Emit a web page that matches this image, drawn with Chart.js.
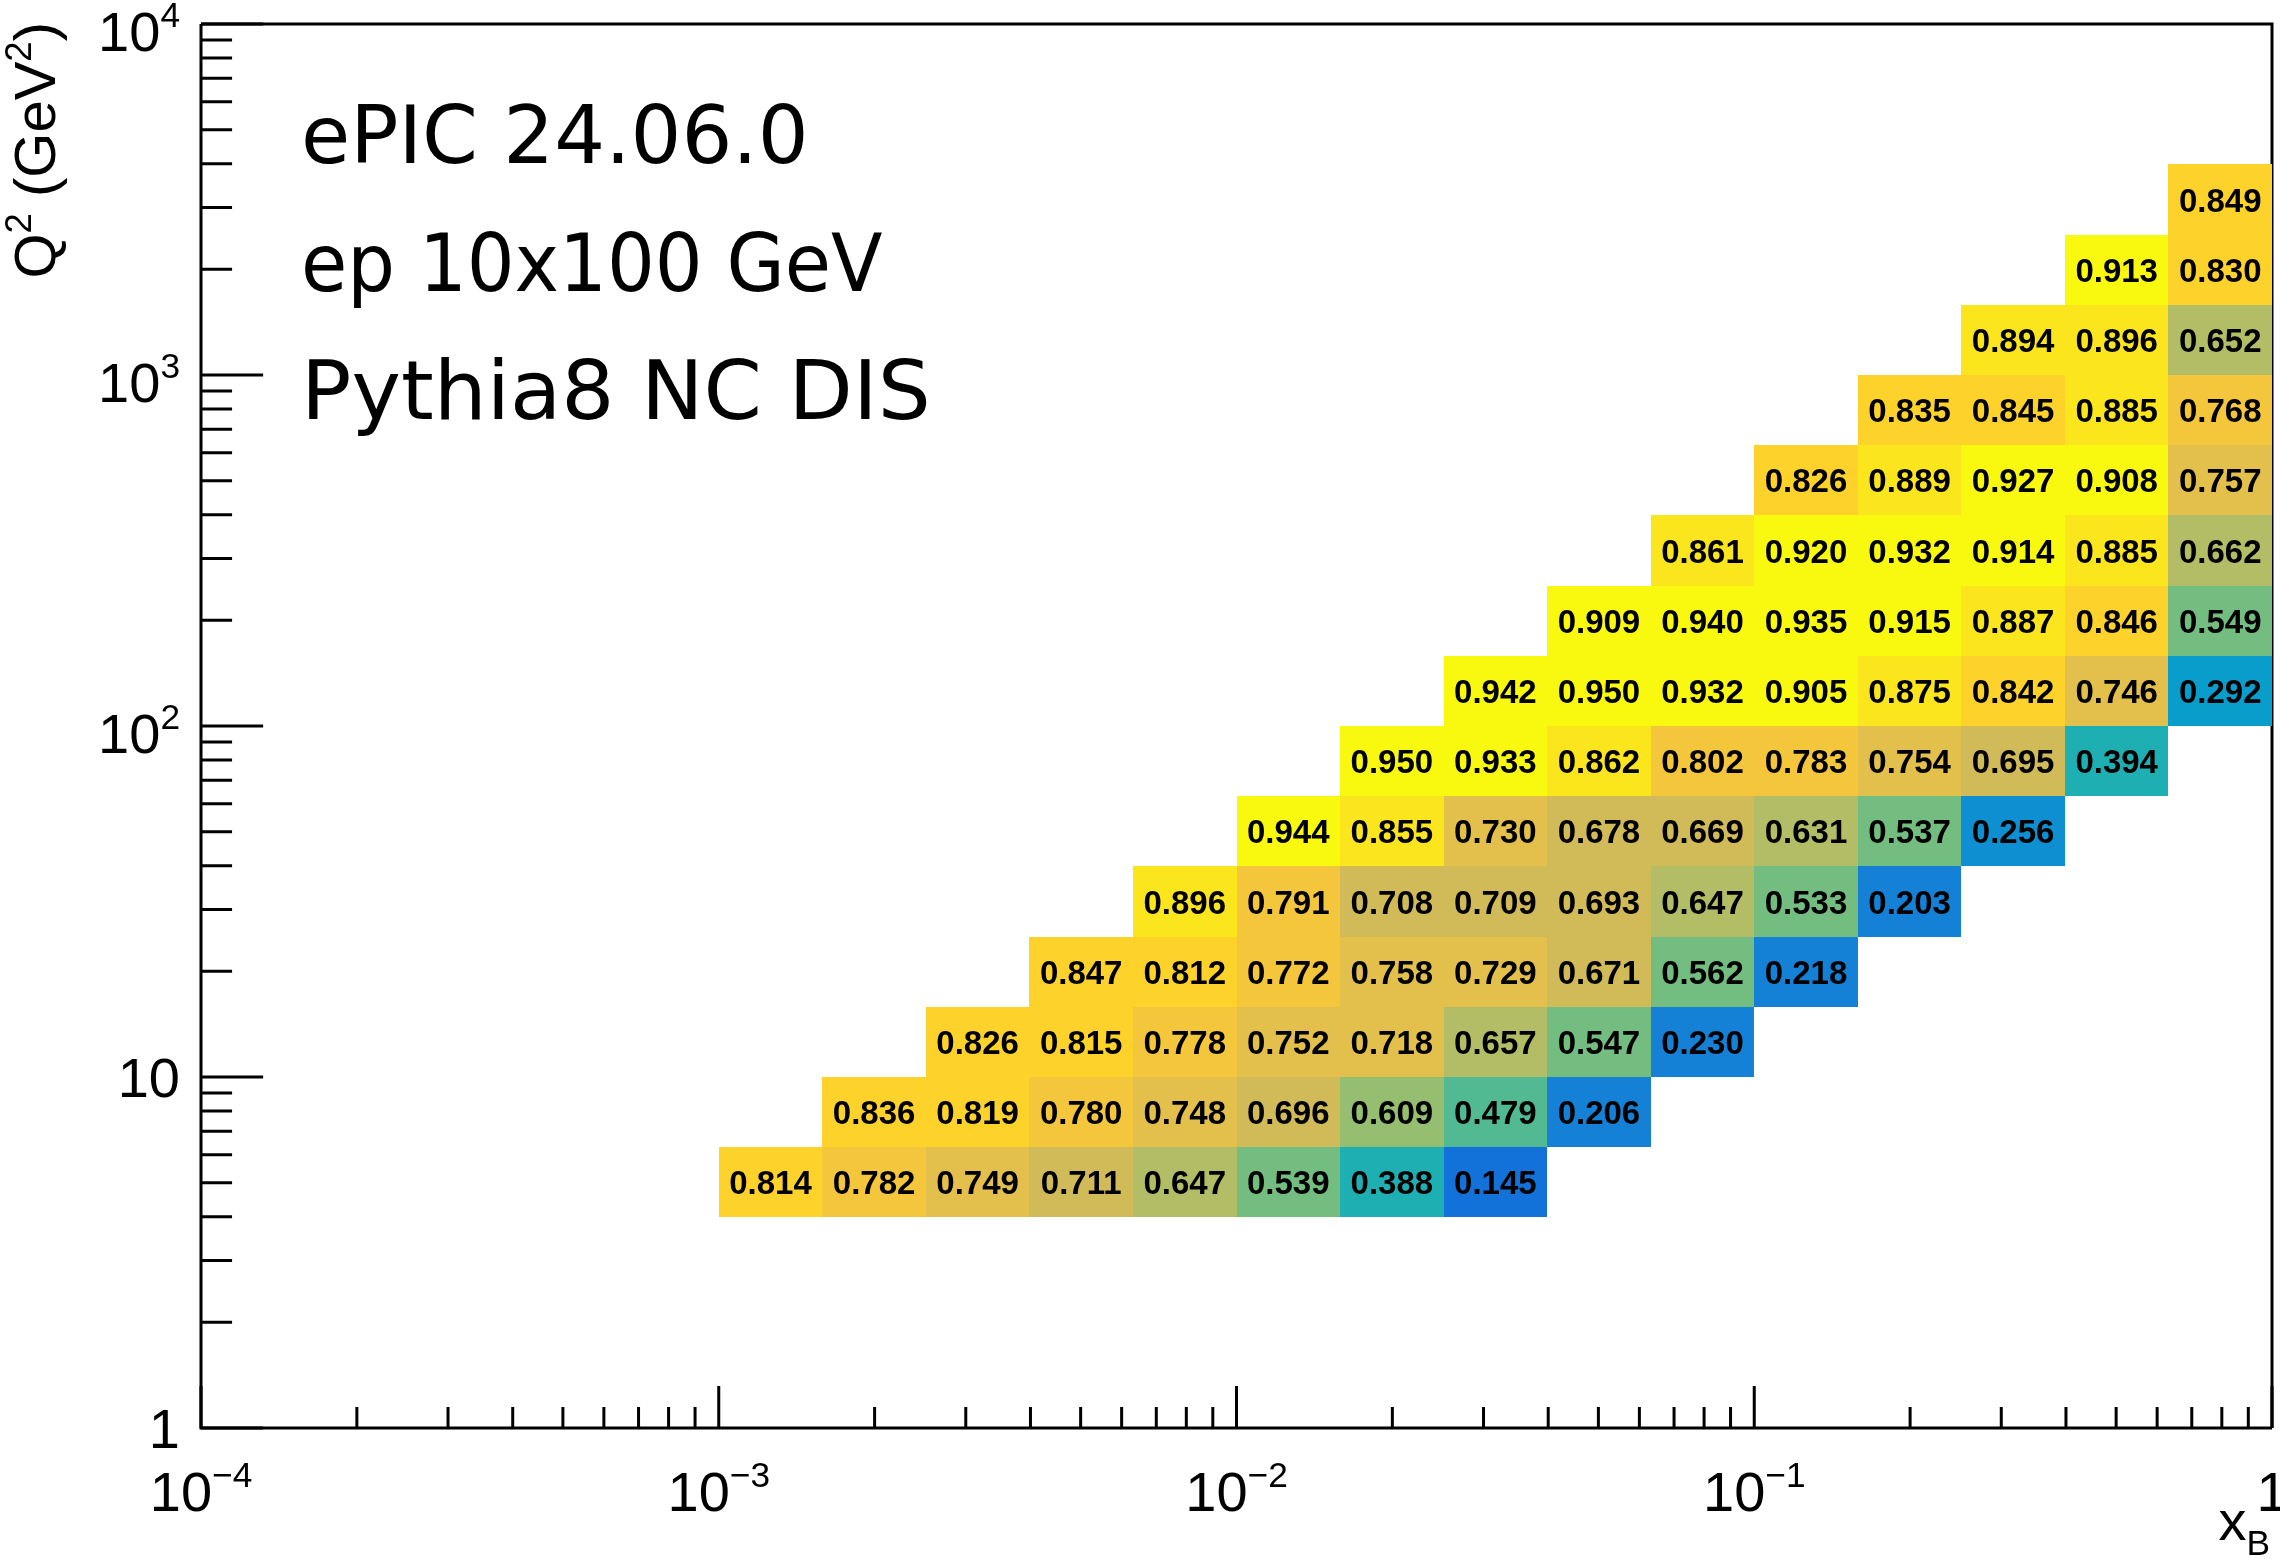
<!DOCTYPE html>
<html><head><meta charset="utf-8">
<script src="https://cdn.jsdelivr.net/npm/chart.js@4.4.1/dist/chart.umd.min.js"></script>
<style>html,body{margin:0;padding:0;background:#fff;}canvas{display:block;}</style>
</head><body>
<canvas id="c" width="2280" height="1559"></canvas>
<script>
// ---------------- data ----------------
// bin edges in log10(x_B) and log10(Q^2)
const xBinEdgesLog = [-3.0,-2.8,-2.6,-2.4,-2.2,-2.0,-1.8,-1.6,-1.4,-1.2,-1.0,-0.8,-0.6,-0.4,-0.2,0.0];
const yBinEdgesLog = [0.6,0.8,1.0,1.2,1.4,1.6,1.8,2.0,2.2,2.4,2.6,2.8,3.0,3.2,3.4,3.6];
const _ = null;
// one row per Q^2 bin (lowest first), one entry per x_B bin
const row0  = [0.814,0.782,0.749,0.711,0.647,0.539,0.388,0.145,_,_,_,_,_,_,_];
const row1  = [_,0.836,0.819,0.780,0.748,0.696,0.609,0.479,0.206,_,_,_,_,_,_];
const row2  = [_,_,0.826,0.815,0.778,0.752,0.718,0.657,0.547,0.230,_,_,_,_,_];
const row3  = [_,_,_,0.847,0.812,0.772,0.758,0.729,0.671,0.562,0.218,_,_,_,_];
const row4  = [_,_,_,_,0.896,0.791,0.708,0.709,0.693,0.647,0.533,0.203,_,_,_];
const row5  = [_,_,_,_,_,0.944,0.855,0.730,0.678,0.669,0.631,0.537,0.256,_,_];
const row6  = [_,_,_,_,_,_,0.950,0.933,0.862,0.802,0.783,0.754,0.695,0.394,_];
const row7  = [_,_,_,_,_,_,_,0.942,0.950,0.932,0.905,0.875,0.842,0.746,0.292];
const row8  = [_,_,_,_,_,_,_,_,0.909,0.940,0.935,0.915,0.887,0.846,0.549];
const row9  = [_,_,_,_,_,_,_,_,_,0.861,0.920,0.932,0.914,0.885,0.662];
const row10 = [_,_,_,_,_,_,_,_,_,_,0.826,0.889,0.927,0.908,0.757];
const row11 = [_,_,_,_,_,_,_,_,_,_,_,0.835,0.845,0.885,0.768];
const row12 = [_,_,_,_,_,_,_,_,_,_,_,_,0.894,0.896,0.652];
const row13 = [_,_,_,_,_,_,_,_,_,_,_,_,_,0.913,0.830];
const row14 = [_,_,_,_,_,_,_,_,_,_,_,_,_,_,0.849];

const xTickValues = [1e-4, 1e-3, 1e-2, 1e-1, 1];
const xTickLabels = ['10^{-4}', '10^{-3}', '10^{-2}', '10^{-1}', '1'];
const yTickValues = [1, 10, 100, 1000, 10000];
const yTickLabels = ['1', '10', '10^{2}', '10^{3}', '10^{4}'];
const xTitle = 'x_{B}';
const yTitle = 'Q^{2} (GeV^{2})';
const infoLines = ['ePIC 24.06.0', 'ep 10x100 GeV', 'Pythia8 NC DIS'];

// ---------------- palette (ROOT kBird, 20 contours) ----------------
const birdStops = [0.0, 0.125, 0.25, 0.375, 0.5, 0.625, 0.75, 0.875, 1.0];
const birdR = [0.2082, 0.0592, 0.0780, 0.0232, 0.1802, 0.5301, 0.8186, 0.9956, 0.9764];
const birdG = [0.1664, 0.3599, 0.5041, 0.6419, 0.7178, 0.7492, 0.7328, 0.7862, 0.9832];
const birdB = [0.5293, 0.8684, 0.8385, 0.7914, 0.6425, 0.4662, 0.3499, 0.1968, 0.0539];
const NCOL = 255, NCONT = 20;
const palette = [];
for (let g = 1; g < birdStops.length; g++) {
  const start = Math.floor(NCOL * birdStops[g-1]);
  const n = Math.floor(NCOL * birdStops[g]) - start;
  for (let c = 0; c < n; c++) {
    const f = c / n;
    const r = birdR[g-1] + f * (birdR[g] - birdR[g-1]);
    const gg = birdG[g-1] + f * (birdG[g] - birdG[g-1]);
    const b = birdB[g-1] + f * (birdB[g] - birdB[g-1]);
    palette.push(`rgb(${Math.round(r*255)},${Math.round(gg*255)},${Math.round(b*255)})`);
  }
}
const rows = [row0,row1,row2,row3,row4,row5,row6,row7,row8,row9,row10,row11,row12,row13,row14];
const cells = [];
rows.forEach((row, j) => row.forEach((v, i) => {
  if (v === null) return;
  cells.push({
    x: Math.pow(10, (xBinEdgesLog[i] + xBinEdgesLog[i+1]) / 2),
    y: Math.pow(10, (yBinEdgesLog[j] + yBinEdgesLog[j+1]) / 2),
    v: v, i: i, j: j
  });
}));
const zMin = 0;
const zMax = Math.max(...cells.map(c => c.v));
function zColor(v) {
  const k = Math.floor(0.01 + (v - zMin) * NCONT / (zMax - zMin));
  let idx = Math.floor((k + 0.99) * NCOL / NCONT);
  if (idx > NCOL - 1) idx = NCOL - 1;
  if (idx < 0) idx = 0;
  return palette[idx];
}

// ---------------- text helpers ----------------
const FONT = '"Liberation Sans", Arial, Helvetica, sans-serif';
function parseScript(label) {
  const segs = [];
  const re = /([\^_])\{([^}]*)\}/g;
  let last = 0, m;
  while ((m = re.exec(label)) !== null) {
    if (m.index > last) segs.push({t: label.slice(last, m.index), mode: 0});
    segs.push({t: m[2].replace('-', '\u2212'), mode: m[1] === '^' ? 1 : -1});
    last = re.lastIndex;
  }
  if (last < label.length) segs.push({t: label.slice(last), mode: 0});
  return segs;
}
function drawScript(ctx, label, x, y, align, size) {
  const segs = parseScript(label);
  const small = size * 0.63;
  let total = 0;
  segs.forEach(s => {
    ctx.font = `${s.mode ? small : size}px ${FONT}`;
    s.w = ctx.measureText(s.t).width;
    total += s.w;
  });
  let cx = align === 'center' ? x - total / 2 : (align === 'right' ? x - total : x);
  ctx.textAlign = 'left';
  ctx.textBaseline = 'alphabetic';
  segs.forEach(s => {
    ctx.font = `${s.mode ? small : size}px ${FONT}`;
    const dy = s.mode === 1 ? -size * 0.42 : (s.mode === -1 ? size * 0.27 : 0);
    ctx.fillText(s.t, cx, y + dy);
    cx += s.w;
  });
}

// ---------------- plugin drawing the ROOT-style histogram ----------------
const rootStyle = {
  id: 'rootStyle',
  beforeDraw(chart) {
    const ctx = chart.ctx;
    ctx.save();
    ctx.fillStyle = '#ffffff';
    ctx.fillRect(0, 0, chart.width, chart.height);
    ctx.restore();
  },
  beforeDatasetsDraw(chart) {
    const ctx = chart.ctx, a = chart.chartArea;
    const xs = chart.scales.x, ys = chart.scales.y;
    ctx.save();
    ctx.strokeStyle = '#000';
    ctx.lineWidth = 3;
    ctx.beginPath();
    ctx.moveTo(a.left, a.top); ctx.lineTo(a.right, a.top); ctx.lineTo(a.right, a.bottom);
    ctx.stroke();
    const meta = chart.getDatasetMeta(0);
    meta.data.forEach((pt, n) => {
      const c = chart.data.datasets[0].data[n];
      const x0 = Math.round(xs.getPixelForValue(Math.pow(10, xBinEdgesLog[c.i])));
      const x1 = Math.round(xs.getPixelForValue(Math.pow(10, xBinEdgesLog[c.i+1])));
      const y0 = Math.round(ys.getPixelForValue(Math.pow(10, yBinEdgesLog[c.j])));
      const y1 = Math.round(ys.getPixelForValue(Math.pow(10, yBinEdgesLog[c.j+1])));
      ctx.fillStyle = zColor(c.v);
      ctx.fillRect(x0, y1, x1 - x0, y0 - y1);
    });
    ctx.restore();
  },
  afterDatasetsDraw(chart) {
    const ctx = chart.ctx, a = chart.chartArea;
    const xs = chart.scales.x, ys = chart.scales.y;
    ctx.save();
    const meta = chart.getDatasetMeta(0);
    ctx.fillStyle = '#000';
    ctx.font = `bold 33px ${FONT}`;
    ctx.textAlign = 'center';
    ctx.textBaseline = 'alphabetic';
    meta.data.forEach((pt, n) => {
      const c = chart.data.datasets[0].data[n];
      ctx.fillText(c.v.toFixed(3), pt.x, pt.y + 12);
    });
    ctx.strokeStyle = '#000';
    ctx.lineWidth = 3;
    ctx.beginPath();
    ctx.moveTo(a.left, a.top); ctx.lineTo(a.left, a.bottom); ctx.lineTo(a.right, a.bottom);
    ctx.stroke();
    const xMajor = 0.03 * (a.bottom - a.top), yMajor = 0.03 * (a.right - a.left);
    ctx.beginPath();
    for (let d = -4; d <= 0; d++) {
      for (let m = 1; m <= 9; m++) {
        const v = m * Math.pow(10, d);
        if (v > 1.0000001) break;
        const px = xs.getPixelForValue(v);
        const len = m === 1 ? xMajor : xMajor / 2;
        ctx.moveTo(px, a.bottom); ctx.lineTo(px, a.bottom - len);
      }
    }
    for (let d = 0; d <= 4; d++) {
      for (let m = 1; m <= 9; m++) {
        const v = m * Math.pow(10, d);
        if (v > 10000.001) break;
        const py = ys.getPixelForValue(v);
        const len = m === 1 ? yMajor : yMajor / 2;
        ctx.moveTo(a.left, py); ctx.lineTo(a.left + len, py);
      }
    }
    ctx.stroke();
    ctx.fillStyle = '#000';
    xTickValues.forEach((v, k) => {
      drawScript(ctx, xTickLabels[k], xs.getPixelForValue(v), a.bottom + 83, 'center', 56);
    });
    yTickValues.forEach((v, k) => {
      const lab = yTickLabels[k];
      const off = lab.indexOf('^') >= 0 ? 27 : 20;
      drawScript(ctx, lab, a.left - 21, ys.getPixelForValue(v) + off, 'right', 56);
    });
    drawScript(ctx, xTitle, a.right - 2, a.bottom + 112, 'right', 56);
    ctx.save();
    ctx.translate(55, a.top - 2);
    ctx.rotate(-Math.PI / 2);
    drawScript(ctx, yTitle, 0, 0, 'right', 58);
    ctx.restore();
    // info text (per-line size / horizontal stretch to match the original lettering)
    const infoStyle = [{size: 80, sx: 1.0}, {size: 80, sx: 0.94}, {size: 82, sx: 1.02}];
    ctx.textAlign = 'left';
    ctx.textBaseline = 'alphabetic';
    infoLines.forEach((t, k) => {
      ctx.save();
      ctx.translate(301, 163 + k * 128);
      ctx.scale(infoStyle[k].sx, 1);
      ctx.font = `${infoStyle[k].size}px "DejaVu Sans", sans-serif`;
      ctx.fillText(t, 0, 0);
      ctx.restore();
    });
    ctx.restore();
  }
};

new Chart(document.getElementById('c').getContext('2d'), {
  type: 'scatter',
  data: { datasets: [{ label: 'efficiency', data: cells, pointRadius: 0, pointHoverRadius: 0, showLine: false }] },
  options: {
    responsive: false,
    animation: false,
    devicePixelRatio: 1,
    events: [],
    layout: { padding: { left: 201, right: 8, top: 24, bottom: 131 } },
    plugins: { legend: { display: false }, tooltip: { enabled: false } },
    scales: {
      x: { type: 'logarithmic', min: 1e-4, max: 1, display: false },
      y: { type: 'logarithmic', min: 1, max: 1e4, display: false }
    }
  },
  plugins: [rootStyle]
});
</script>
</body></html>
